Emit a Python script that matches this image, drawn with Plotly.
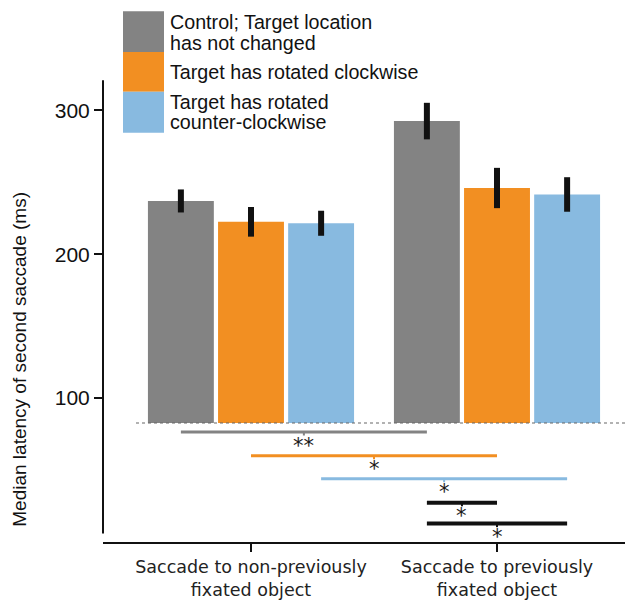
import plotly.graph_objects as go

# ---------------- data ----------------
groups = ["Saccade to non-previously<br>fixated object",
          "Saccade to previously<br>fixated object"]
series_names = ["Control; Target location<br>has not changed",
                "Target has rotated clockwise",
                "Target has rotated<br>counter-clockwise"]
colors = ["#838383", "#f28f22", "#88bae0"]

control = [237.0, 292.5]
clockwise = [222.5, 246.0]
counter = [221.5, 241.5]
control_err = [8.0, 12.7]
clockwise_err = [10.3, 14.0]
counter_err = [8.7, 12.0]
bar_base = 82.7
yticks = [100, 200, 300]

# significance comparisons: (group, series) -> (group, series), label
comparisons = [((0, 0), (1, 0), "**"),
               ((0, 1), (1, 1), "*"),
               ((0, 2), (1, 2), "*"),
               ((1, 0), (1, 1), "*"),
               ((1, 0), (1, 2), "*")]
comp_levels = [76.5, 60.0, 44.0, 27.3, 12.8]
comp_colors = ["#838383", "#f28f22", "#88bae0", "#111111", "#111111"]

values = [control, clockwise, counter]
errors = [control_err, clockwise_err, counter_err]

# ---------------- layout geometry ----------------
OFF = 8  # page body margin
W, H = 633 - OFF, 600 - OFF
ML, MR, MT, MB = 103 - OFF, 0, 60 - OFF, 56
PW, PH = W - ML - MR, H - MT - MB
XR = [-0.6016, 1.5528]
YR = [0, 334.95]
bargap, bargroupgap = 0.145, 0.06
slot = (1 - bargap) / 3


def pxx(px):
    return (px - OFF - ML) / PW


def pyy(py):
    return (H - MB - (py - OFF)) / PH


def bar_x(g, s):
    return g + (s - 1) * slot


fig = go.Figure()
for i in range(3):
    fig.add_trace(go.Bar(
        x=[0, 1], y=[v - bar_base for v in values[i]], base=bar_base,
        marker=dict(color=colors[i], line=dict(width=0)),
        name=series_names[i], showlegend=False,
        error_y=dict(type="data", array=errors[i], thickness=6, width=0,
                     color="#111111"),
    ))

shapes = []
annotations = []

# dotted baseline
shapes.append(dict(type="line", xref="x", yref="y", x0=-0.4675, x1=XR[1],
                   y0=bar_base, y1=bar_base,
                   line=dict(color="#666666", width=1.2, dash="dot")))

# y axis spine (offset style)
shapes.append(dict(type="line", xref="paper", yref="y", x0=0, x1=0,
                   y0=5.9, y1=320.9, line=dict(color="#111111", width=2)))

# significance bars
for (a, b, lab), lev, col in zip(comparisons, comp_levels, comp_colors):
    x0 = bar_x(*a)
    x1 = bar_x(*b)
    lw = 4 if col == "#111111" else 3
    shapes.append(dict(type="line", xref="x", yref="y", x0=x0, x1=x1,
                       y0=lev, y1=lev, line=dict(color=col, width=lw)))
    xm = (x0 + x1) / 2
    shapes.append(dict(type="line", xref="x", yref="y", x0=xm, x1=xm,
                       y0=lev, y1=lev - 2.5, line=dict(color=col, width=2)))
    annotations.append(dict(x=xm, y=lev - 9.5, xref="x", yref="y", text=lab,
                            showarrow=False, xanchor="center", yanchor="middle",
                            font=dict(family="DejaVu Sans", size=21,
                                      color="#1a1a1a")))

# manual legend
sw_tops = [11, 52, 92]
sw_bots = [52, 92, 133]
line_centers = [[22, 42.5], [72], [102, 122]]
for i in range(3):
    shapes.append(dict(type="rect", xref="paper", yref="paper",
                       x0=pxx(123), x1=pxx(164), y0=pyy(sw_bots[i]),
                       y1=pyy(sw_tops[i]), fillcolor=colors[i],
                       line=dict(width=0)))
    for txt, yc in zip(series_names[i].split("<br>"), line_centers[i]):
        annotations.append(dict(x=pxx(168), y=pyy(yc), xref="paper",
                                yref="paper", text=txt, showarrow=False,
                                xanchor="left", yanchor="middle",
                                font=dict(family="Liberation Sans", size=19.7,
                                          color="#111111")))

# y title
annotations.append(dict(x=pxx(20), y=pyy(361), xref="paper", yref="paper",
                        text="Median latency of second saccade (ms)",
                        textangle=-90, showarrow=False, xanchor="center",
                        yanchor="middle",
                        font=dict(family="Liberation Sans", size=19,
                                  color="#111111")))

fig.update_layout(
    width=W, height=H,
    margin=dict(l=ML, r=MR, t=MT, b=MB, pad=0),
    paper_bgcolor="white", plot_bgcolor="white",
    barmode="group", bargap=bargap, bargroupgap=bargroupgap,
    shapes=shapes, annotations=annotations,
    xaxis=dict(range=XR, tickvals=[0, 1], ticktext=groups,
               showline=True, linecolor="#111111", linewidth=2,
               ticks="outside", ticklen=8, tickwidth=2, tickcolor="#111111",
               tickfont=dict(family="DejaVu Sans", size=17.5, color="#222222"),
               showgrid=False, zeroline=False),
    yaxis=dict(range=YR, tickvals=yticks, ticks="outside", ticklen=8,
               tickwidth=2, tickcolor="#111111", showline=False,
               showgrid=False, zeroline=False,
               tickfont=dict(family="Liberation Sans", size=21,
                             color="#111111")),
)

fig.write_html("out.html")
